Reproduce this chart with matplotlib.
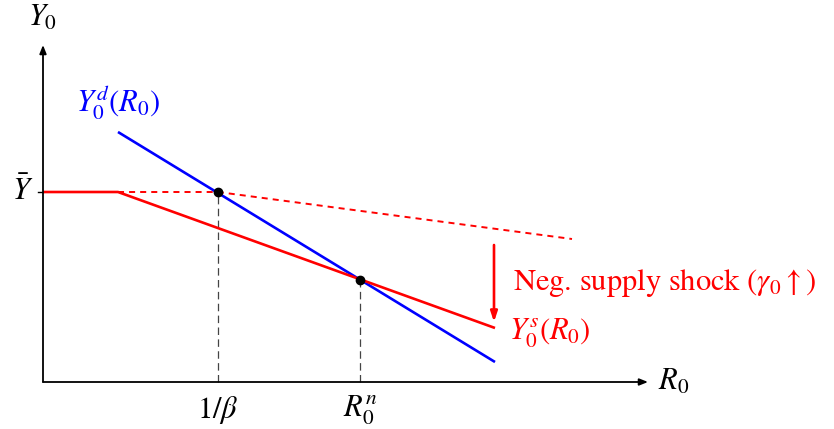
import matplotlib

matplotlib.use("Agg")
import matplotlib.pyplot as plt

plt.rcParams["mathtext.fontset"] = "stix"
plt.rcParams["font.family"] = ["STIXGeneral", "DejaVu Sans"]

# Model quantities (arbitrary units, origin at the axes' crossing)
Y_BAR = 1.90
KINK_R = 0.75
R_BETA = 1.75
R_NAT = 3.17
Y_NAT = 1.02
R_END = 4.52

demand_r = [KINK_R, R_END]
demand_y = [2.50, 0.20]

supply_r = [0.0, KINK_R, R_END]
supply_y = [Y_BAR, Y_BAR, 0.54]

# supply before the shock: flat up to 1/beta, then falling
old_supply_r = [KINK_R, R_BETA, 5.29]
old_supply_y = [Y_BAR, Y_BAR, 1.43]

shock_r = 4.51
shock_y = [1.37, 0.60]

X_MAX = 6.05
Y_MAX = 3.37
FS = 22

fig = plt.figure(figsize=(8.34, 4.29), dpi=100)
ax = fig.add_axes([0, 0, 1, 1])
ax.set_xlim(-0.43, 7.91)
ax.set_ylim(-0.47, 3.82)
ax.axis("off")

# axes with arrow heads
arrow = dict(arrowstyle="-|>,head_length=0.5,head_width=0.2", color="black", lw=1.3,
             shrinkA=0, shrinkB=0)
ax.annotate("", xy=(X_MAX, 0), xytext=(0, 0), arrowprops=arrow)
ax.annotate("", xy=(0, Y_MAX), xytext=(0, 0), arrowprops=arrow)
ax.text(0.0, 3.64, r"$Y_0$", fontsize=FS, ha="center", va="center")
ax.text(6.15, 0.0, r"$R_0$", fontsize=FS, ha="left", va="center")

# guides
ax.plot([R_BETA, R_BETA], [0, Y_BAR], color="#444444", lw=0.9, ls=(0, (6, 3.5)))
ax.plot([R_NAT, R_NAT], [0, Y_NAT], color="#444444", lw=0.9, ls=(0, (6, 3.5)))
ax.plot([0, -0.05], [Y_BAR, Y_BAR], color="black", lw=1.0)
ax.text(-0.1, Y_BAR, r"$\bar{Y}$", fontsize=FS, ha="right", va="center")
ax.text(R_BETA, -0.28, r"$1/\beta$", fontsize=FS, ha="center", va="center")
ax.text(R_NAT, -0.28, r"$R_0^n$", fontsize=FS, ha="center", va="center")

# curves
ax.plot(old_supply_r, old_supply_y, color="red", lw=1.4, ls=(0, (3.1, 2.6)))
ax.plot(demand_r, demand_y, color="blue", lw=1.9, solid_capstyle="butt")
ax.plot(supply_r, supply_y, color="red", lw=1.9, solid_capstyle="butt")

ax.plot([R_BETA, R_NAT], [Y_BAR, Y_NAT], "o", color="black", ms=6)

ax.text(0.33, 2.80, r"$Y_0^d(R_0)$", fontsize=FS, color="blue", ha="left", va="center")
ax.text(4.66, 0.49, r"$Y_0^s(R_0)$", fontsize=FS, color="red", ha="left", va="center")

ax.annotate("", xy=(shock_r, shock_y[1]), xytext=(shock_r, shock_y[0]),
            arrowprops=dict(arrowstyle="-|>,head_length=0.6,head_width=0.2",
                            color="red", lw=1.9, shrinkA=0, shrinkB=0))
ax.text(4.70, 0.99, r"Neg. supply shock ($\gamma_0\uparrow$)", fontsize=FS,
        color="red", ha="left", va="center")

fig.savefig("out.png", dpi=100)
